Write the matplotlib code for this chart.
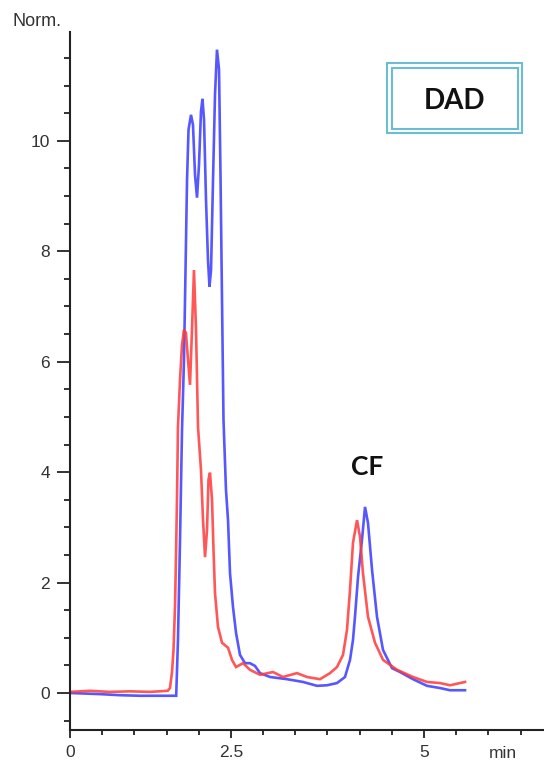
import matplotlib
matplotlib.use("Agg")
import matplotlib.pyplot as plt
from matplotlib.patches import Rectangle
import numpy as np

# ---- data (time in min, signal in Norm.) ----
blue_t = [0.00, 0.42, 0.71, 0.99, 1.27, 1.50, 1.525, 1.554, 1.582, 1.610, 1.631, 1.653,
          1.674, 1.709, 1.737, 1.766, 1.794, 1.822, 1.850, 1.871, 1.893, 1.921, 1.949,
          1.970, 1.992, 2.020, 2.048, 2.076, 2.105, 2.126, 2.147, 2.168, 2.203, 2.232,
          2.260, 2.302, 2.345, 2.401, 2.472, 2.542, 2.613, 2.684, 2.825, 3.065, 3.291,
          3.489, 3.630, 3.771, 3.884, 3.955, 3.997, 4.025, 4.068, 4.124, 4.167, 4.209,
          4.266, 4.336, 4.421, 4.548, 4.661, 4.845, 5.042, 5.226, 5.367, 5.579]
blue_y = [0.00, -0.02, -0.04, -0.05, -0.05, -0.05, 0.96, 2.77, 4.76, 6.03, 7.61, 9.29,
          10.20, 10.47, 10.29, 9.38, 8.97, 9.57, 10.53, 10.76, 10.38, 8.93, 7.84,
          7.36, 7.66, 9.29, 10.83, 11.65, 11.29, 9.35, 7.12, 4.95, 3.68, 3.13,
          2.17, 1.56, 1.09, 0.69, 0.54, 0.54, 0.49, 0.36, 0.29, 0.25, 0.20,
          0.13, 0.14, 0.18, 0.29, 0.60, 0.96, 1.38, 2.10, 2.77, 3.37, 3.08,
          2.23, 1.38, 0.78, 0.45, 0.38, 0.25, 0.13, 0.09, 0.05, 0.05]

red_t = [0.00, 0.28, 0.56, 0.85, 1.13, 1.38, 1.412, 1.441, 1.462, 1.483, 1.497, 1.511,
         1.525, 1.554, 1.582, 1.610, 1.638, 1.667, 1.695, 1.723, 1.751, 1.780, 1.808,
         1.850, 1.879, 1.907, 1.935, 1.956, 1.977, 2.006, 2.027, 2.048, 2.090, 2.147,
         2.232, 2.288, 2.345, 2.444, 2.542, 2.684, 2.867, 3.008, 3.206, 3.347, 3.531,
         3.672, 3.771, 3.856, 3.912, 3.955, 3.997, 4.054, 4.096, 4.138, 4.209, 4.308,
         4.421, 4.619, 4.845, 5.042, 5.226, 5.367, 5.579]
red_y = [0.02, 0.04, 0.02, 0.03, 0.02, 0.04, 0.09, 0.38, 0.78, 1.56, 2.46, 3.50,
         4.82, 5.67, 6.30, 6.58, 6.52, 6.03, 5.58, 6.58, 7.66, 6.58, 4.82,
         4.04, 3.13, 2.46, 2.95, 3.86, 3.99, 3.50, 2.59, 1.81, 1.20, 0.91,
         0.82, 0.60, 0.47, 0.54, 0.42, 0.33, 0.38, 0.29, 0.36, 0.29, 0.25,
         0.36, 0.47, 0.69, 1.14, 1.87, 2.72, 3.13, 2.83, 2.17, 1.38, 0.91,
         0.60, 0.42, 0.29, 0.20, 0.18, 0.14, 0.20]

y_major = [0, 2, 4, 6, 8, 10]
x_tick_labels = ["0", "2.5", "5"]
x_tick_index = [0, 5, 11]          # tick positions (of the 5/11-min grid) carrying labels
x_step = 5 / 11

W, H = 544, 767
fig = plt.figure(figsize=(W / 100, H / 100), dpi=100)
ax = fig.add_axes([70 / W, (H - 730) / H, (W - 70) / W, (730 - 32) / H])

ax.plot(blue_t, blue_y, color="#3a3aff", lw=1.9, alpha=0.85, solid_joinstyle="miter")
ax.plot(red_t, red_y, color="#ff3a3a", lw=1.9, alpha=0.85, solid_joinstyle="miter")

ax.set_xlim(0, (W - 70) / 70.8)
ax.set_ylim(-0.67, 11.97)

for s in ["top", "right"]:
    ax.spines[s].set_visible(False)
for s in ["left", "bottom"]:
    ax.spines[s].set_color("#222222")
    ax.spines[s].set_linewidth(1.5)

tick_font = dict(family=["Liberation Sans", "DejaVu Sans"], size=12.5)
ax.set_yticks(y_major)
ax.set_yticklabels([str(v) for v in y_major], **tick_font, color="#333333")
ax.set_yticks(np.arange(-0.5, 11.6, 0.5), minor=True)
ax.tick_params(axis="y", which="major", length=9.5, width=1.3, pad=5, color="#222222")
ax.tick_params(axis="y", which="minor", length=4.5, width=1.3, color="#222222")

ax.set_xticks([i * x_step for i in x_tick_index])
ax.set_xticklabels(x_tick_labels, **tick_font, color="#333333")
ax.set_xticks([i * x_step for i in range(15)], minor=True)
ax.tick_params(axis="x", which="major", length=6, width=1.3, pad=5, color="#222222")
ax.tick_params(axis="x", which="minor", length=3.5, width=1.3, color="#222222")

fig.text(503 / W, 1 - 753 / H, "min", ha="center", va="center", color="#333333", **tick_font)
fig.text(12 / W, 1 - 21 / H, "Norm.", ha="left", va="center", color="#333333",
         family=["Liberation Sans", "DejaVu Sans"], size=13)

# DAD double-bordered box
box_col = "#6cbcd2"
for (x0, y0, x1, y1) in [(387, 63, 522, 133), (392, 68, 518, 129)]:
    fig.patches.append(Rectangle((x0 / W, 1 - y1 / H), (x1 - x0) / W, (y1 - y0) / H,
                                 transform=fig.transFigure, fill=False,
                                 edgecolor=box_col, lw=1.5))
fig.text(455 / W, 1 - 101 / H, "DAD", ha="center", va="center", color="#111111",
         family=["Lato", "DejaVu Sans"], weight="bold", size=20)
fig.text(367 / W, 1 - 467 / H, "CF", ha="center", va="center", color="#111111",
         family=["Lato", "DejaVu Sans"], weight="bold", size=19)

fig.savefig("out.png", dpi=100)
